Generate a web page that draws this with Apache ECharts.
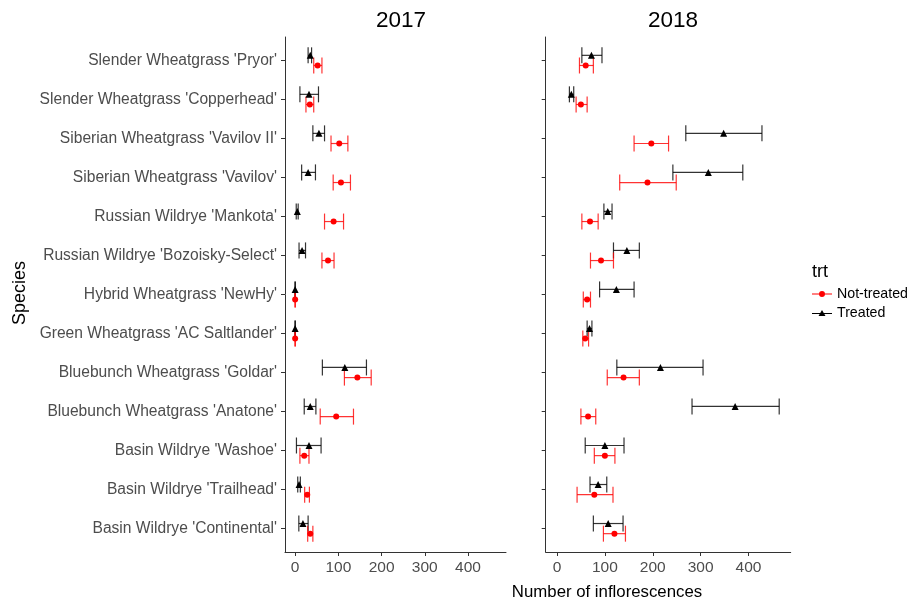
<!DOCTYPE html>
<html>
<head>
<meta charset="utf-8">
<script src="https://cdn.jsdelivr.net/npm/echarts@6/dist/echarts.min.js"></script>
<style>html,body{margin:0;padding:0;background:#fff}#chart{width:910px;height:602px}</style>
</head>
<body>
<div id="chart"></div>
<script>
const species = ["Basin Wildrye 'Continental'", "Basin Wildrye 'Trailhead'", "Basin Wildrye 'Washoe'",
  "Bluebunch Wheatgrass 'Anatone'", "Bluebunch Wheatgrass 'Goldar'", "Green Wheatgrass 'AC Saltlander'",
  "Hybrid Wheatgrass 'NewHy'", "Russian Wildrye 'Bozoisky-Select'", "Russian Wildrye 'Mankota'",
  "Siberian Wheatgrass 'Vavilov'", "Siberian Wheatgrass 'Vavilov II'", "Slender Wheatgrass 'Copperhead'",
  "Slender Wheatgrass 'Pryor'"];
const xTicks = [0, 100, 200, 300, 400];

// 2017
const nt2017Mean = [35, 28, 21, 95, 144, 0, 0, 76, 89, 106, 102, 34, 52];
const nt2017Lo   = [29, 22, 11, 58, 114, -0.5, -0.5, 62, 68, 88, 83, 25, 43];
const nt2017Hi   = [41, 33, 32, 135, 176, 0.5, 0.5, 90, 112, 128, 122, 43, 62];
const tr2017Mean = [18, 9, 32, 35, 115, 0, 0, 16, 5, 30, 55, 32, 35];
const tr2017Lo   = [8.5, 6, 3, 21, 63, -0.5, -0.5, 9, 2.5, 15, 41, 11, 30];
const tr2017Hi   = [30, 12, 60, 48, 165, 0.5, 0.5, 24, 7, 47, 68, 54, 38];
// 2018
const nt2018Mean = [120, 78, 100, 65, 139, 59, 63, 92, 69, 189, 197, 50, 60];
const nt2018Lo   = [97, 42, 78, 50, 105, 54, 55, 70, 52, 131, 161, 40, 47];
const nt2018Hi   = [143, 117, 121, 81, 172, 66, 70, 118, 86, 249, 233, 63, 76];
const tr2018Mean = [107, 86, 100, 372, 216, 68, 124, 146, 106, 316, 348, 30, 72];
const tr2018Lo   = [76, 69, 59, 282, 125, 63, 89, 118, 98, 242, 269, 26, 52];
const tr2018Hi   = [138, 104, 140, 464, 305, 73, 161, 172, 115, 388, 428, 35, 94];

const FONT = "'Liberation Sans', Arial, sans-serif";
const RED = '#ff0000';
const BLK = '#000000';
const DODGE = 0.13;

function pts(mean, off) { return mean.map((v, i) => [v, i + off]); }
function bars(lo, hi, off) { return lo.map((v, i) => [v, hi[i], i + off]); }

function errSeries(name, lo, hi, off, color, idx) {
  return {
    type: 'custom', name: name, xAxisIndex: idx, yAxisIndex: idx, z: 2,
    data: bars(lo, hi, off),
    encode: { x: [0, 1], y: 2 },
    renderItem: function (params, api) {
      const y = api.value(2);
      const a = api.coord([api.value(0), y]);
      const b = api.coord([api.value(1), y]);
      const c = 8;
      const st = { stroke: color, lineWidth: 1.2, opacity: 0.8 };
      return { type: 'group', children: [
        { type: 'line', shape: { x1: a[0], y1: a[1], x2: b[0], y2: b[1] }, style: st },
        { type: 'line', shape: { x1: a[0], y1: a[1] - c, x2: a[0], y2: a[1] + c }, style: st },
        { type: 'line', shape: { x1: b[0], y1: b[1] - c, x2: b[0], y2: b[1] + c }, style: st }
      ]};
    }
  };
}
function ptSeries(name, mean, off, color, symbol, size, idx) {
  return {
    type: 'scatter', name: name, xAxisIndex: idx, yAxisIndex: idx, z: 3,
    symbol: symbol, symbolSize: size, itemStyle: { color: color, opacity: 1 },
    data: pts(mean, off)
  };
}

const grids = [
  { left: 285, top: 37, width: 221, height: 515 },
  { left: 545.7, top: 37, width: 245, height: 515 }
];
function xAx(idx) {
  return {
    type: 'value', gridIndex: idx, min: -23.5, max: 488,
    splitLine: { show: false },
    axisLine: { show: true, onZero: false, lineStyle: { color: '#333', width: 1 } },
    axisTick: { show: true, length: 4, customValues: xTicks, lineStyle: { color: '#333' } },
    axisLabel: { customValues: xTicks, margin: 8, color: '#4d4d4d', fontSize: 15.5, fontFamily: FONT }
  };
}
function yAx(idx, showLabels) {
  return {
    type: 'value', gridIndex: idx, min: -0.6, max: 12.6,
    splitLine: { show: false },
    axisLine: { show: true, onZero: false, lineStyle: { color: '#333', width: 1 } },
    axisTick: { show: true, length: 4, customValues: species.map((s, i) => i), lineStyle: { color: '#333' } },
    axisLabel: { show: showLabels, customValues: species.map((s, i) => i), margin: 8,
      color: '#4d4d4d', fontSize: 15.6, fontFamily: FONT,
      formatter: v => species[Math.round(v)] }
  };
}

const iconCircle = 'path://M0,3.4 H20 V4.6 H0 Z M10,1 A3,3 0 1 1 10,7 A3,3 0 1 1 10,1 Z';
const iconTri = 'path://M0,4.9 H20 V6.1 H0 Z M10,2 L13.5,8 L6.5,8 Z';

const option = {
  animation: false,
  backgroundColor: '#fff',
  textStyle: { fontFamily: FONT },
  title: [
    { text: '2017', left: 396, top: 4, textAlign: 'center', textStyle: { fontSize: 22.5, fontWeight: 'normal', color: '#000', fontFamily: FONT } },
    { text: '2018', left: 668, top: 4, textAlign: 'center', textStyle: { fontSize: 22.5, fontWeight: 'normal', color: '#000', fontFamily: FONT } }
  ],
  grid: grids,
  xAxis: [xAx(0), xAx(1)],
  yAxis: [yAx(0, true), yAx(1, false)],
  legend: {
    orient: 'vertical', left: 807, top: 282, itemWidth: 20, itemHeight: 8, itemGap: 5,
    textStyle: { fontSize: 14.2, color: '#000', fontFamily: FONT },
    data: [
      { name: 'Not-treated', icon: iconCircle, itemStyle: { color: RED } },
      { name: 'Treated', icon: iconTri, itemStyle: { color: BLK } }
    ]
  },
  graphic: [
    { type: 'text', left: 812, top: 263, style: { text: 'trt', fontSize: 18, fill: '#000', fontFamily: FONT } },
    { type: 'text', x: 607, y: 592, style: { text: 'Number of inflorescences', fontSize: 16.8, fill: '#000', fontFamily: FONT, align: 'center', verticalAlign: 'middle' } },
    { type: 'text', x: 20, y: 293, rotation: Math.PI / 2, style: { text: 'Species', fontSize: 18, fill: '#000', fontFamily: FONT, align: 'center', verticalAlign: 'middle' } }
  ],
  series: [
    errSeries('Treated', tr2017Lo, tr2017Hi, DODGE, BLK, 0),
    errSeries('Not-treated', nt2017Lo, nt2017Hi, -DODGE, RED, 0),
    ptSeries('Treated', tr2017Mean, DODGE, BLK, 'triangle', 7, 0),
    ptSeries('Not-treated', nt2017Mean, -DODGE, RED, 'circle', 6, 0),
    errSeries('Treated', tr2018Lo, tr2018Hi, DODGE, BLK, 1),
    errSeries('Not-treated', nt2018Lo, nt2018Hi, -DODGE, RED, 1),
    ptSeries('Treated', tr2018Mean, DODGE, BLK, 'triangle', 7, 1),
    ptSeries('Not-treated', nt2018Mean, -DODGE, RED, 'circle', 6, 1)
  ]
};
const chart = echarts.init(document.getElementById('chart'), null, { renderer: 'canvas' });
chart.setOption(option);
</script>
</body>
</html>
